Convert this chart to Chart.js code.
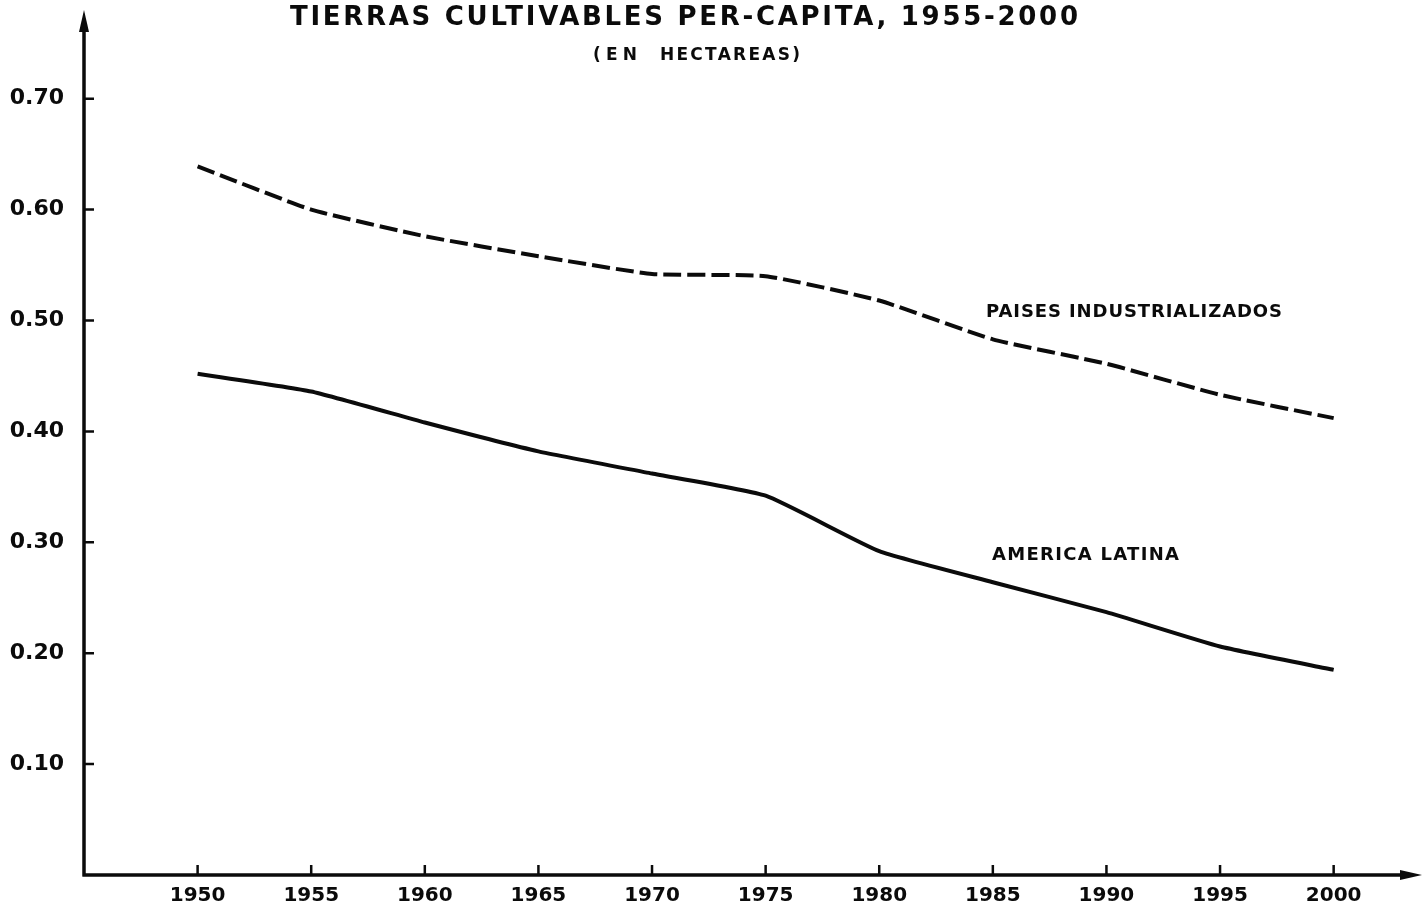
<!DOCTYPE html>
<html>
<head>
<meta charset="utf-8">
<script src="https://cdn.jsdelivr.net/npm/chart.js@4.4.1/dist/chart.umd.min.js"></script>
<style>
  html, body { margin: 0; padding: 0; background: #fff; }
  #wrap { width: 1424px; height: 905px; }
</style>
</head>
<body>
<div id="wrap"><canvas id="landChart" width="1424" height="905"></canvas></div>
<script>
// Data (hectares per capita)
const years = [1950, 1955, 1960, 1965, 1970, 1975, 1980, 1985, 1990, 1995, 2000];
const industrializados = [0.639, 0.600, 0.576, 0.558, 0.542, 0.540, 0.518, 0.483, 0.461, 0.433, 0.412];
const americaLatina = [0.452, 0.436, 0.408, 0.382, 0.362, 0.342, 0.292, 0.264, 0.237, 0.206, 0.185];
const yTicks = [0.1, 0.2, 0.3, 0.4, 0.5, 0.6, 0.7];

const titleText = 'TIERRAS CULTIVABLES PER-CAPITA, 1955-2000';
const subtitleParts = ['(EN', 'HECTAREAS)'];
const seriesLabels = ['PAISES INDUSTRIALIZADOS', 'AMERICA LATINA'];

const INK = '#0b0b0b';
const FONT = "'DejaVu Sans', 'Liberation Sans', sans-serif";

// draw text stretched to a given width (old stencil lettering is widely spaced)
const spacedText = (ctx, text, x, cy, width, size) => {
    ctx.font = `bold ${size}px ${FONT}`;
    ctx.letterSpacing = '0px';
    const w = ctx.measureText(text).width;
    const sp = (width - w) / (text.length - 1);
    ctx.letterSpacing = sp + 'px';
    ctx.textAlign = 'left';
    ctx.textBaseline = 'alphabetic';
    ctx.fillText(text, x, cy + size * 0.365);
    ctx.letterSpacing = '0px';
};

const axesPlugin = {
    id: 'axesPlugin',
    afterDraw(chart) {
        const ctx = chart.ctx;
        const { left, right, top, bottom } = chart.chartArea;
        const xs = chart.scales.x;
        const ys = chart.scales.y;
        ctx.save();
        ctx.strokeStyle = INK;
        ctx.fillStyle = INK;
        ctx.lineCap = 'butt';

        // axis lines
        ctx.lineWidth = 3.5;
        ctx.beginPath();
        ctx.moveTo(left, bottom + 1.5);
        ctx.lineTo(left, top + 14);
        ctx.moveTo(left - 1.5, bottom);
        ctx.lineTo(right - 14, bottom);
        ctx.stroke();

        // arrow heads
        ctx.beginPath();
        ctx.moveTo(left, top);
        ctx.lineTo(left - 5, top + 22);
        ctx.lineTo(left + 5, top + 22);
        ctx.closePath();
        ctx.fill();
        ctx.beginPath();
        ctx.moveTo(right + 2, bottom);
        ctx.lineTo(right - 20, bottom - 5);
        ctx.lineTo(right - 20, bottom + 5);
        ctx.closePath();
        ctx.fill();

        // inward tick marks
        ctx.lineWidth = 2.5;
        ctx.beginPath();
        ys.ticks.forEach(t => {
            const py = ys.getPixelForValue(t.value);
            ctx.moveTo(left, py);
            ctx.lineTo(left + 10, py);
        });
        xs.ticks.forEach(t => {
            const px = xs.getPixelForValue(t.value);
            ctx.moveTo(px, bottom);
            ctx.lineTo(px, bottom - 10);
        });
        ctx.stroke();

        // titles and line labels
        spacedText(ctx, titleText, 290, 16, 788, 26);
        spacedText(ctx, subtitleParts[0], 593, 54, 44, 17);
        spacedText(ctx, subtitleParts[1], 660, 54, 140, 17);
        spacedText(ctx, seriesLabels[0], 986, 310, 296, 18);
        spacedText(ctx, seriesLabels[1], 992, 553, 187, 18);
        ctx.restore();
    }
};

const ctx = document.getElementById('landChart').getContext('2d');

new Chart(ctx, {
    type: 'line',
    data: {
        datasets: [
            {
                label: seriesLabels[0],
                data: years.map((y, i) => ({ x: y, y: industrializados[i] })),
                borderColor: INK,
                borderWidth: 4,
                borderDash: [18, 6],
                pointRadius: 0,
                tension: 0.15,
                fill: false
            },
            {
                label: seriesLabels[1],
                data: years.map((y, i) => ({ x: y, y: americaLatina[i] })),
                borderColor: INK,
                borderWidth: 4,
                pointRadius: 0,
                tension: 0.15,
                fill: false
            }
        ]
    },
    options: {
        responsive: false,
        animation: false,
        layout: { padding: { top: 10, right: 4, left: 0, bottom: 0 } },
        plugins: {
            legend: { display: false },
            tooltip: { enabled: false },
            title: { display: false }
        },
        scales: {
            x: {
                type: 'linear',
                min: 1945,
                max: 2003.8,
                afterFit: s => {
                    s.height = 30;
                    s.paddingLeft = 0;
                    s.paddingRight = 0;
                },
                afterBuildTicks: s => { s.ticks = years.map(v => ({ value: v })); },
                grid: { display: false, drawTicks: false },
                border: { display: false },
                ticks: {
                    color: INK,
                    padding: 9,
                    maxRotation: 0,
                    autoSkip: false,
                    font: { family: FONT, size: 20, weight: 'bold' },
                    callback: v => String(v)
                }
            },
            y: {
                type: 'linear',
                min: 0,
                max: 0.78,
                afterFit: s => {
                    s.width = 84;
                    s.paddingTop = 0;
                    s.paddingBottom = 0;
                },
                afterBuildTicks: s => { s.ticks = yTicks.map(v => ({ value: v })); },
                grid: { display: false, drawTicks: false },
                border: { display: false },
                ticks: {
                    color: INK,
                    padding: 20,
                    autoSkip: false,
                    font: { family: FONT, size: 22, weight: 'bold' },
                    callback: v => v.toFixed(2)
                }
            }
        }
    },
    plugins: [axesPlugin]
});
</script>
</body>
</html>
